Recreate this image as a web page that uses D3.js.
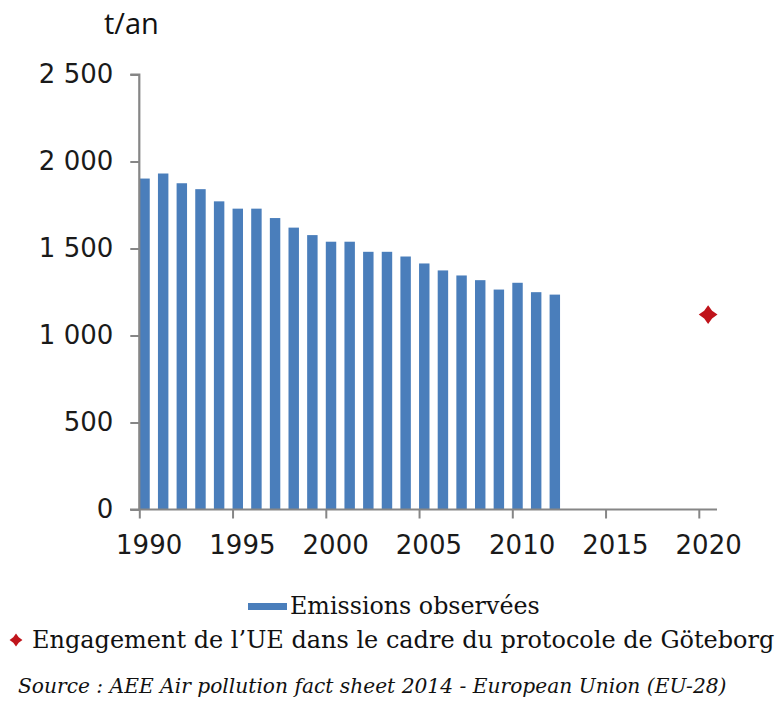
<!DOCTYPE html>
<html>
<head>
  <meta charset="utf-8">
  <title>Emissions</title>
  <script src="https://d3js.org/d3.v7.min.js"></script>
  <style>
    body { margin: 0; background: #fff; }
  </style>
</head>
<body>
<svg width="779" height="704"></svg>
<script>

// data
var years = d3.range(1990, 2013);
var emissions = [1902, 1931, 1875, 1841, 1771, 1729, 1729, 1675, 1620, 1577, 1539, 1539,
                 1481, 1481, 1454, 1414, 1374, 1345, 1318, 1264, 1303, 1249, 1235];
var targetYear = [2020];
var targetValue = [1120];
var yTicks = [0, 500, 1000, 1500, 2000, 2500];
var xTicks = [1990, 1995, 2000, 2005, 2010, 2015, 2020];

var svg = d3.select("svg");

var x = d3.scaleLinear().domain([1990, 2020]).range([139.3, 698.8]);
var y = d3.scaleLinear().domain([0, 2500]).range([509.5, 74.5]);
var step = x(1991) - x(1990);
var barW = step * 0.56;

var fr = d3.formatLocale({decimal: ",", thousands: " ", grouping: [3], currency: ["", "€"]});
var fmt = fr.format(",d");

var axisColor = "#868686";
var red = "#c0141b";

// 4 point star, like the spreadsheet marker
var star4 = {
  draw: function(ctx, size) {
    var r = Math.sqrt(size) * 0.72, k = r * 0.42;
    ctx.moveTo(0, -r);
    ctx.lineTo(k, -k);
    ctx.lineTo(r, 0);
    ctx.lineTo(k, k);
    ctx.lineTo(0, r);
    ctx.lineTo(-k, k);
    ctx.lineTo(-r, 0);
    ctx.lineTo(-k, -k);
    ctx.closePath();
  }
};

// bars
svg.append("g").selectAll("rect")
  .data(years)
  .enter().append("rect")
    .attr("x", function(d) { return x(d); })
    .attr("y", function(d, i) { return y(emissions[i]); })
    .attr("width", barW)
    .attr("height", function(d, i) { return y(0) - y(emissions[i]); })
    .attr("fill", "#4a7ebb");

// y axis
var yAxis = svg.append("g")
    .attr("transform", "translate(" + x(1990) + ",0)")
    .call(d3.axisLeft(y).tickValues(yTicks).tickFormat(fmt).tickSize(9).tickPadding(17));
yAxis.select(".domain").attr("stroke", axisColor).attr("stroke-width", 2.2).attr("d", "M-9," + y(2500) + "H0V" + y(0));
yAxis.selectAll(".tick line").attr("stroke", axisColor).attr("stroke-width", 2);
yAxis.selectAll(".tick text")
    .attr("font-family", "DejaVu Sans")
    .attr("font-size", 26)
    .attr("fill", "#1a1a1a");

// x axis
var xAxis = svg.append("g")
    .attr("transform", "translate(0," + y(0) + ")")
    .call(d3.axisBottom(x).tickValues(xTicks).tickFormat(d3.format("d")).tickSize(9).tickPadding(17));
xAxis.select(".domain").attr("stroke", axisColor).attr("stroke-width", 2.2).attr("d", "M130,0H717");
xAxis.selectAll(".tick line").attr("stroke", axisColor).attr("stroke-width", 2);
xAxis.selectAll(".tick text")
    .attr("font-family", "DejaVu Sans")
    .attr("font-size", 26)
    .attr("dx", step / 2)
    .attr("fill", "#1a1a1a");

// target marker
svg.append("g").selectAll("path")
  .data(targetYear)
  .enter().append("path")
    .attr("transform", function(d, i) { return "translate(" + (x(d) + step / 2) + "," + y(targetValue[i]) + ")"; })
    .attr("d", d3.symbol().type(star4).size(170))
    .attr("fill", red);

// unit label
svg.append("text")
    .attr("x", 104).attr("y", 34)
    .attr("font-family", "Open Sans")
    .attr("font-size", 29)
    .attr("fill", "#111")
    .text("t/an");

// fit a text line to the width it has in the reference
function fit(sel, width) {
  var w = sel.node().getComputedTextLength();
  var fs = +sel.attr("font-size");
  sel.attr("font-size", fs * width / w);
}

// legend
svg.append("rect")
    .attr("x", 248).attr("y", 603).attr("width", 39).attr("height", 7)
    .attr("fill", "#4a7ebb");
svg.append("text")
    .attr("x", 290).attr("y", 614)
    .attr("font-family", "DejaVu Serif")
    .attr("font-size", 21)
    .attr("fill", "#111")
    .text("Emissions observées")
    .call(fit, 250);

svg.append("path")
    .attr("transform", "translate(16,640)")
    .attr("d", d3.symbol().type(star4).size(80))
    .attr("fill", red);
svg.append("text")
    .attr("x", 32).attr("y", 648)
    .attr("font-family", "DejaVu Serif")
    .attr("font-size", 21)
    .attr("fill", "#111")
    .text("Engagement de l\u2019UE dans le cadre du protocole de Göteborg")
    .call(fit, 743);

// source
svg.append("text")
    .attr("x", 18).attr("y", 693)
    .attr("font-family", "DejaVu Serif")
    .attr("font-style", "italic")
    .attr("font-size", 19)
    .attr("fill", "#111")
    .text("Source : AEE Air pollution fact sheet 2014 - European Union (EU-28)")
    .call(fit, 709);

</script>
</body>
</html>
